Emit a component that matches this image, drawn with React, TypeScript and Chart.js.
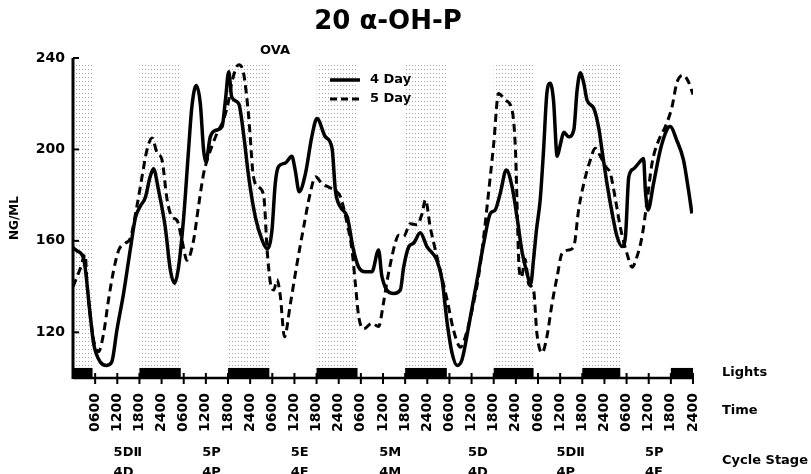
import React, { useEffect, useRef } from 'react';
import { Chart, registerables } from 'chart.js';

Chart.register(...registerables);

// ---- Data ----
const fourDayHours = [0, 1.2, 2.9, 4.7, 5.6, 7.4, 9.1, 10.5, 11.9, 13.7, 15.5, 16.9, 18.2, 19.6, 20.9, 21.8, 23.2, 25, 26.4, 27.5, 28.6, 30, 31.3, 32.2, 33.4, 34.5, 35.4, 36, 37.2, 39, 40.4, 41.3, 42.2, 43, 44.9, 46.2, 47.6, 49.4, 51.2, 52.6, 53.9, 54.8, 55.7, 57.5, 59.3, 60.2, 61.3, 63, 64.7, 66.1, 68.4, 70.2, 71.1, 72.4, 74.3, 76, 77.4, 79.2, 81, 82.8, 83.7, 86.9, 88.7, 89.6, 91, 92.3, 94.1, 95.9, 98.6, 100, 101.4, 102.7, 104.1, 105.4, 107.2, 109.5, 111.3, 113.1, 114.4, 115.8, 117.4, 119, 120.3, 121.7, 123, 124, 124.8, 125.6, 126.6, 127.5, 128.4, 129.3, 130.2, 131.2, 132.1, 133, 134.3, 135.7, 136.6, 137.5, 138.4, 139.3, 141.1, 142.5, 143.4, 144.7, 146.1, 147.4, 148.8, 149.7, 150.6, 151.9, 153.3, 154.6, 155.1, 155.8, 157.3, 159.1, 160.9, 161.8, 163.6, 165.4, 166.8, 167.7];
const fourDayValues = [157, 155.5, 152, 127, 115, 107, 105.5, 107, 121, 137, 156, 170, 175, 179, 188, 191.5, 182, 166, 147, 141.5, 148.5, 170.5, 199.5, 218.5, 228, 220, 199.5, 194.5, 205.5, 208.5, 210, 221.5, 234, 223, 220, 207, 188, 170.5, 160.5, 156.5, 164.5, 185, 192.5, 194, 197, 191, 181.5, 189.5, 205.5, 213.5, 205.5, 200.5, 182, 175, 170.5, 156, 148.5, 146.5, 146.5, 156, 144.5, 137, 138.5, 148.5, 157.5, 159, 163.5, 157.5, 151.5, 143, 124, 111, 105.5, 108, 122.5, 143, 159, 172, 173.5, 181, 191, 183.5, 170.5, 155, 146, 141, 152, 165, 178, 199.5, 224.5, 229, 221.5, 197, 202.5, 207.5, 205.5, 208.5, 226, 233.5, 229, 221.5, 218, 209, 199, 185, 172, 162, 157.5, 162, 188, 191.5, 194, 196, 182, 173.5, 185, 199.5, 208.5, 210, 204, 195.5, 182, 172];

const fiveDayHours = [0, 2, 3.3, 3.8, 4.7, 5.6, 6.9, 8.3, 9.6, 11, 12.4, 14.2, 15.5, 17.3, 18.7, 20, 21.4, 22.8, 24.1, 25.5, 26.8, 28.2, 29.5, 30.9, 32.7, 34, 35.4, 36.3, 39, 40.8, 42.2, 43, 44.9, 46.2, 47.6, 48.9, 50.3, 51.7, 52.6, 53.5, 54.4, 55.3, 56.2, 57.3, 58.9, 60.7, 62.5, 64.3, 65.7, 67.5, 69.3, 71.1, 72.4, 74.3, 75.6, 76.5, 77.4, 78.8, 81, 82.8, 84.1, 85, 86.4, 87.3, 88.2, 89.6, 91.4, 93.2, 94.6, 95.5, 96.8, 98.2, 99.5, 101.4, 103.1, 105, 106.3, 108.1, 109.9, 111.3, 112.6, 114, 115.3, 117.2, 119, 119.9, 120.3, 120.8, 121.5, 122.5, 123.5, 124.8, 125.7, 127.1, 128.4, 129.8, 131.2, 132.5, 134.3, 135.7, 137, 138.4, 140.2, 141.5, 142.9, 144.3, 145.6, 147, 148.3, 150.1, 151.5, 152.8, 154.2, 155.6, 156.9, 158.7, 160.5, 162.3, 163.6, 165.4, 166.8, 168];
const fiveDayValues = [140, 148, 154, 141.5, 127, 116.5, 111.5, 119.5, 134, 147, 156, 159, 161, 175, 188, 199.5, 205, 198.5, 195.5, 178, 170.5, 169, 160.5, 151.5, 160.5, 175, 189.5, 195, 207, 213, 221.5, 229, 237, 233.5, 214.5, 188, 183.5, 179.5, 156, 141.5, 138.5, 143, 135.5, 118, 132.5, 150, 166, 181, 188, 185, 183.5, 182, 179.5, 167.5, 156, 141.5, 127, 121.5, 124, 122.5, 132.5, 141.5, 153, 159, 162.5, 162, 167.5, 167, 172, 178, 166, 156, 147, 134, 121, 113.5, 118, 129.5, 144.5, 162, 181, 202.5, 224.5, 221.5, 217, 199.5, 178, 150, 144, 152, 141, 138.5, 119.5, 111, 118, 132.5, 144.5, 154.5, 156, 157.5, 173.5, 185, 195.5, 200.5, 197, 192.5, 189.5, 178, 166, 154.5, 148.5, 153, 162, 178, 194, 204, 210, 218.5, 229, 232.5, 229.5, 224];

const yTickValues = [120, 160, 200, 240];
const timeTickLabels = ['0600', '1200', '1800', '2400'];
const numDays = 7;
const darkStartHours = [0, 18, 42, 66, 90, 114, 138, 162];
const darkEndHours = [5.3, 29.2, 53.2, 77.1, 101.3, 124.8, 148.3, 168];
const stageLabels5 = ['5DⅡ', '5P', '5E', '5M', '5D', '5DⅡ', '5P'];
const stageLabels4 = ['4D', '4P', '4E', '4M', '4D', '4P', '4E'];
const seriesNames = ['4 Day', '5 Day'];

const FONT = "'DejaVu Sans', sans-serif";

const timeTickHours: number[] = [];
for (let d = 0; d < numDays; d++) for (let k = 1; k <= 4; k++) timeTickHours.push(d * 24 + k * 6);

let stipple: CanvasPattern | null = null;
function getStipple(ctx: CanvasRenderingContext2D) {
  if (stipple) return stipple;
  const c = document.createElement('canvas');
  c.width = 3; c.height = 4;
  const g = c.getContext('2d')!;
  g.fillStyle = '#a6a6a6';
  g.fillRect(1, 1, 1, 1);
  stipple = ctx.createPattern(c, 'repeat');
  return stipple!;
}

const decor = {
  id: 'decor',
  beforeDatasetsDraw(chart: any) {
    const { ctx, chartArea, scales } = chart;
    const x = scales.x;
    ctx.save();
    ctx.fillStyle = getStipple(ctx);
    for (let i = 0; i < darkStartHours.length - 1; i++) {
      const x0 = x.getPixelForValue(darkStartHours[i]);
      const x1 = x.getPixelForValue(darkEndHours[i]);
      ctx.fillRect(x0, chartArea.top + 5, x1 - x0, chartArea.bottom - chartArea.top - 5);
    }
    ctx.restore();
  },
  afterDatasetsDraw(chart: any) {
    const { ctx, chartArea, scales } = chart;
    const x = scales.x, y = scales.y;
    const { left, right, top, bottom } = chartArea;
    ctx.save();
    // lights bars
    ctx.fillStyle = '#000';
    const barTop = y.getPixelForValue(104.4);
    for (let i = 0; i < darkStartHours.length; i++) {
      const x0 = x.getPixelForValue(darkStartHours[i]);
      const x1 = x.getPixelForValue(darkEndHours[i]);
      ctx.fillRect(x0, barTop, x1 - x0, bottom - barTop);
    }
    // axes
    ctx.strokeStyle = '#000';
    ctx.lineWidth = 3;
    ctx.beginPath(); ctx.moveTo(left, top); ctx.lineTo(left, bottom + 1); ctx.stroke();
    ctx.lineWidth = 2.5;
    ctx.beginPath(); ctx.moveTo(left, bottom); ctx.lineTo(right, bottom); ctx.stroke();
    ctx.lineWidth = 2;
    for (const h of timeTickHours) {
      const px = x.getPixelForValue(h);
      ctx.beginPath(); ctx.moveTo(px, bottom - 5); ctx.lineTo(px, bottom + 6); ctx.stroke();
    }
    for (const v of yTickValues) {
      const py = y.getPixelForValue(v);
      ctx.beginPath(); ctx.moveTo(left, py); ctx.lineTo(left + 6, py); ctx.stroke();
    }
    // title
    ctx.fillStyle = '#000';
    ctx.textBaseline = 'middle';
    ctx.textAlign = 'center';
    ctx.font = `bold 26px ${FONT}`;
    ctx.fillText('20 α-OH-P', 388, 22);
    ctx.font = `bold 13px ${FONT}`;
    ctx.fillText('OVA', 275, 51);
    // legend
    ctx.textAlign = 'left';
    ctx.lineWidth = 3.5;
    ctx.beginPath(); ctx.moveTo(330, 80); ctx.lineTo(360, 80); ctx.stroke();
    ctx.lineWidth = 3;
    ctx.setLineDash([7, 4]);
    ctx.beginPath(); ctx.moveTo(330, 99); ctx.lineTo(360, 99); ctx.stroke();
    ctx.setLineDash([]);
    ctx.font = `bold 13px ${FONT}`;
    ctx.fillText(seriesNames[0], 370, 80);
    ctx.fillText(seriesNames[1], 370, 99);
    // right side labels
    ctx.font = `bold 13px ${FONT}`;
    ctx.fillText('Lights', 722, 373);
    ctx.fillText('Time', 722, 411);
    ctx.fillText('Cycle Stage', 722, 461);
    // cycle stages
    ctx.font = `bold 13px ${FONT}`;
    for (let d = 0; d < stageLabels5.length; d++) {
      const px = x.getPixelForValue(d * 24 + 11);
      ctx.fillText(stageLabels5[d], px, 452.5);
      ctx.fillText(stageLabels4[d], px, 473);
    }
    ctx.restore();
  },
};

export default function App() {
  const ref = useRef<HTMLCanvasElement>(null);
  useEffect(() => {
    if (!ref.current) return;
    const chart = new Chart(ref.current, {
      type: 'line',
      data: {
        datasets: [
          {
            label: seriesNames[0],
            data: fourDayHours.map((h, i) => ({ x: h, y: fourDayValues[i] })),
            borderColor: '#000',
            borderWidth: 3.5,
            pointRadius: 0,
            fill: false,
            cubicInterpolationMode: 'monotone',
          },
          {
            label: seriesNames[1],
            data: fiveDayHours.map((h, i) => ({ x: h, y: fiveDayValues[i] })),
            borderColor: '#000',
            borderWidth: 3,
            borderDash: [8, 5],
            pointRadius: 0,
            fill: false,
            cubicInterpolationMode: 'monotone',
          },
        ],
      },
      options: {
        responsive: true,
        maintainAspectRatio: false,
        animation: false,
        layout: { padding: { top: 58, right: 118, left: 0, bottom: 0 } },
        plugins: { legend: { display: false }, title: { display: false }, tooltip: { enabled: false } },
        scales: {
          x: {
            type: 'linear',
            min: 0,
            max: 168,
            afterFit: (s: any) => { s.height = 96; },
            afterBuildTicks: (s: any) => { s.ticks = timeTickHours.map((v) => ({ value: v })); },
            grid: { display: false, drawTicks: false },
            border: { display: false },
            ticks: {
              autoSkip: false,
              maxRotation: 90,
              minRotation: 90,
              padding: 15,
              color: '#000',
              font: { family: FONT, weight: 'bold', size: 14 },
              callback: (v: any) => timeTickLabels[(Math.round(Number(v) / 6) - 1) % 4],
            },
          },
          y: {
            min: 100,
            max: 240,
            afterFit: (s: any) => { s.width = 73; },
            afterBuildTicks: (s: any) => { s.ticks = yTickValues.map((v) => ({ value: v })); },
            grid: { display: false, drawTicks: false },
            border: { display: false },
            ticks: {
              padding: 8,
              color: '#000',
              font: { family: FONT, weight: 'bold', size: 14 },
            },
            title: {
              display: true,
              text: 'NG/ML',
              color: '#000',
              padding: { top: 8, bottom: 0 },
              font: { family: FONT, weight: 'bold', size: 12 },
            },
          },
        },
      },
      plugins: [decor],
    } as any);
    return () => chart.destroy();
  }, []);
  return (
    <div style={{ position: 'fixed', left: 0, top: 0, width: '811px', height: '474px', background: '#fff' }}>
      <canvas ref={ref} />
    </div>
  );
}
